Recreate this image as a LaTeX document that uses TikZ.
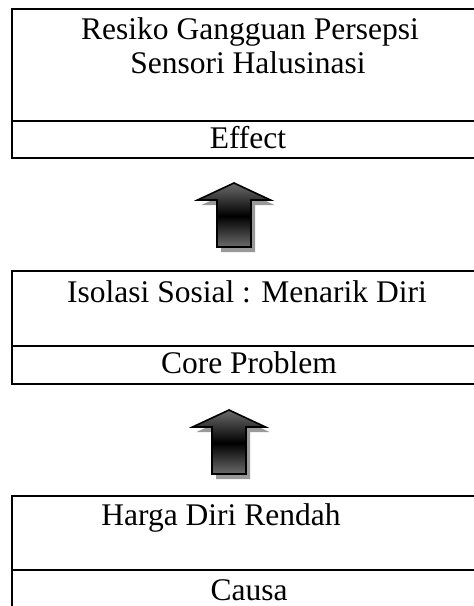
\documentclass[tikz,border=0pt]{standalone}
\usepackage{fontspec}
\setmainfont{Liberation Serif}
\begin{document}
\begin{tikzpicture}[x=1pt,y=-1pt,
  boxline/.style={line width=1.9pt, black},
  lbl/.style={anchor=base, inner sep=0pt, font=\fontsize{31.5}{36}\selectfont},
  uparrow/.pic={
    % drop shadow
    \fill[black!40, shift={(4,5)}]
      (0,0) -- (36.5,17) -- (17,17) -- (17,64) -- (-17,64) -- (-17,17) -- (-36.5,17) -- cycle;
    % body: grey at both ends, black across the middle
    \begin{scope}
      \clip (0,0) -- (36.5,17) -- (17,17) -- (17,64) -- (-17,64) -- (-17,17) -- (-36.5,17) -- cycle;
      \foreach \i in {0,...,63}{
        \pgfmathsetmacro\dk{\i<33 ? 58+42*\i/33 : 100-42*(\i-33)/31}
        \fill[black!\dk] (-40,\i) rectangle (40,\i+1.2);
      }
    \end{scope}
    \draw[line width=0.6pt] (-17,33) -- (17,33);
    \draw[line width=1.6pt, line join=miter]
      (0,0) -- (36.5,17) -- (17,17) -- (17,64) -- (-17,64) -- (-17,17) -- (-36.5,17) -- cycle;
  }]
\clip (0,0) rectangle (474,606);
\fill[white] (0,0) rectangle (474,606);

% Effect box
\draw[boxline] (12,9) rectangle (490,158);
\draw[boxline] (12,121) -- (490,121);
\node[lbl] (effA) at (250,39) {Resiko Gangguan Persepsi};
\node[lbl] (effB) at (248,73) {Sensori Halusinasi};
\node[lbl] (eff)  at (248,148) {Effect};

% Core problem box
\draw[boxline] (12,271) rectangle (490,384);
\draw[boxline] (12,346) -- (490,346);
\node[lbl] (coreA) at (247,302) {Isolasi Sosial : Menarik Diri};
\node[lbl] (core)  at (249,373) {Core Problem};

% Cause box
\draw[boxline] (12,496) rectangle (490,640);
\draw[boxline] (12,570) -- (490,570);
\node[lbl] (causeA) at (221,525) {Harga Diri Rendah};
\node[lbl] (cause)  at (249,600) {Causa};

% Block arrows
\pic at (234,183) {uparrow};
\pic at (229,410) {uparrow};
\end{tikzpicture}
\end{document}
